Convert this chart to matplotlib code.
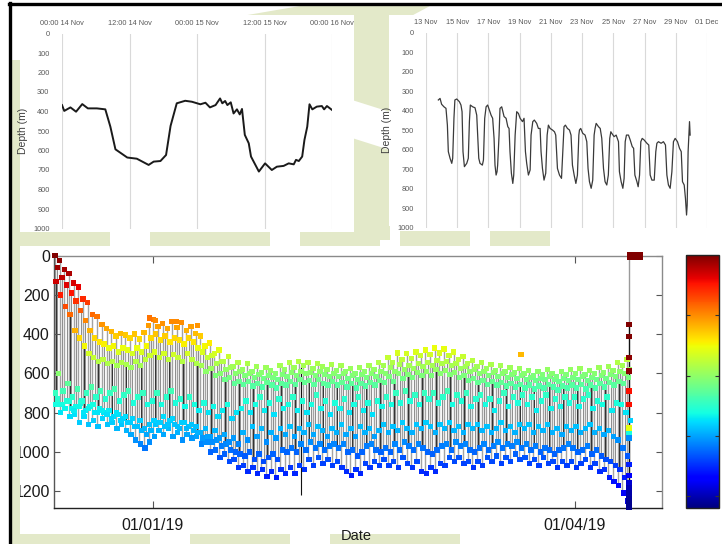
import numpy as np
import matplotlib
matplotlib.use('Agg')
import matplotlib.pyplot as plt
from matplotlib.patches import Rectangle, Polygon
from matplotlib.lines import Line2D
from matplotlib.colors import Normalize
from matplotlib.cm import ScalarMappable

plt.rcParams['font.family'] = ['Liberation Sans', 'DejaVu Sans']

# ---------------- data: top-left panel (hours after 00:00 14 Nov, depth m)
tl_hours = [0, 0.4, 1.5, 2.5, 3.6, 4.6, 6.2, 7.7, 8.6, 9.5,
            11.6, 13.3, 15.4, 16.3, 17.5, 18.5, 19.3, 20.4, 21.9, 23.1,
            24.6, 25.5, 26.3, 27.3, 28.1, 28.5, 29.0, 29.4, 30.0, 30.5,
            31.1, 31.6, 32.0, 32.5, 33.2, 33.6, 35.0, 36.1, 37.3, 38.2,
            39.4, 40.3, 41.2, 41.6, 42.1, 42.7, 43.1, 43.6, 44.0, 44.5,
            45.3, 46.2, 46.6, 47.1, 48.0]
tl_depth = [367, 397, 379, 401, 362, 384, 384, 389, 478, 594,
            636, 642, 674, 657, 654, 623, 474, 358, 345, 350,
            363, 355, 379, 367, 333, 358, 346, 367, 353, 410,
            389, 415, 387, 520, 563, 631, 708, 666, 700, 683,
            679, 666, 671, 648, 654, 631, 546, 478, 363, 389,
            375, 372, 389, 372, 392]
tl_ticks = [0, 12, 24, 36, 48]
tl_labels = ['00:00 14 Nov', '12:00 14 Nov', '00:00 15 Nov', '12:00 15 Nov', '00:00 16 Nov']

# ---------------- data: top-right panel (days after 13 Nov, depth m)
tr_days = [0.79, 0.90, 1.0, 1.15, 1.28, 1.37, 1.43, 1.54, 1.65, 1.71, 1.79, 1.85,
           1.97, 2.14, 2.24, 2.31, 2.37, 2.46, 2.61, 2.71, 2.78, 2.84,
           2.99, 3.14, 3.25, 3.31, 3.38, 3.46, 3.61, 3.68, 3.76, 3.85,
           3.95, 4.06, 4.17, 4.27, 4.36, 4.42, 4.49, 4.55, 4.59, 4.68, 4.74,
           4.85, 5.0, 5.13, 5.24, 5.32, 5.38, 5.47, 5.56, 5.62, 5.71, 5.81,
           5.92, 6.03, 6.18, 6.28, 6.37, 6.45, 6.56, 6.67, 6.73, 6.84,
           6.94, 7.09, 7.2, 7.31, 7.37, 7.46, 7.56, 7.67, 7.76, 7.84,
           7.95, 8.1, 8.23, 8.31, 8.42, 8.55, 8.68, 8.76, 8.84, 8.93,
           9.06, 9.19, 9.29, 9.38, 9.49, 9.6, 9.7, 9.79, 9.83,
           9.91, 10.04, 10.19, 10.3, 10.38, 10.47, 10.58, 10.68, 10.77, 10.83,
           10.9, 11.05, 11.16, 11.26, 11.37, 11.47, 11.58, 11.68, 11.77, 11.84,
           11.9, 12.05, 12.18, 12.33, 12.39, 12.5, 12.61, 12.69, 12.76, 12.84,
           12.97, 13.08, 13.21, 13.3, 13.38, 13.51, 13.59, 13.68, 13.76,
           13.85, 13.97, 14.15, 14.27, 14.36, 14.47, 14.62, 14.72, 14.79,
           14.89, 15.06, 15.21, 15.34, 15.43, 15.53, 15.64, 15.75, 15.85,
           15.96, 16.11, 16.24, 16.35, 16.43, 16.54, 16.62, 16.69, 16.73, 16.79,
           16.84, 16.88, 16.92]
tr_depth = [345, 337, 367, 380, 388, 474, 610, 644, 670, 644, 439, 345,
            340, 354, 371, 405, 610, 687, 670, 644, 456, 371,
            380, 385, 423, 525, 644, 670, 679, 653, 439, 380,
            371, 397, 423, 439, 542, 679, 730, 713, 679, 525, 388,
            380, 430, 439, 482, 491, 610, 721, 773, 730, 525, 405,
            414, 439, 456, 439, 610, 670, 730, 704, 525, 456,
            448, 465, 491, 491, 610, 696, 756, 721, 525, 474,
            491, 499, 508, 525, 696, 730, 747, 610, 482, 474,
            491, 499, 525, 679, 730, 773, 730, 525, 499,
            491, 516, 525, 559, 696, 764, 798, 756, 525, 491,
            465, 482, 491, 542, 696, 764, 781, 730, 542, 508,
            516, 533, 525, 559, 713, 764, 798, 747, 559, 525,
            525, 550, 584, 593, 730, 764, 790, 730, 559,
            542, 550, 567, 576, 730, 756, 756, 610, 567,
            559, 567, 559, 576, 730, 781, 798, 713, 559,
            542, 559, 593, 610, 764, 781, 850, 935, 885, 610,
            525, 456, 525]
tr_ticks = [0, 2, 4, 6, 8, 10, 12, 14, 16, 18]
tr_labels = ['13 Nov', '15 Nov', '17 Nov', '19 Nov', '21 Nov', '23 Nov',
             '25 Nov', '27 Nov', '29 Nov', '01 Dec']

# ---------------- data: bottom panel, one entry per day from 11 Dec 2018 (depth m)
night_top = [0, 25, 70, 90, 140, 160, 220, 240, 300, 310,
             350, 370, 385, 410, 395, 405, 420, 400, 425, 390,
             355, 325, 360, 345, 370, 335, 365, 340, 380, 360,
             395, 410, 460, 445, 500, 480, 540, 515, 565, 545,
             580, 550, 590, 565, 595, 570, 585, 600, 560, 580,
             545, 570, 540, 560, 545, 575, 550, 565, 580, 555,
             585, 560, 590, 575, 600, 570, 590, 560, 580, 545,
             560, 520, 545, 495, 530, 500, 525, 490, 510, 480,
             505, 470, 495, 475, 510, 490, 530, 515, 550, 535,
             565, 545, 575, 555, 585, 560, 590, 570, 595, 575,
             600, 585, 610, 590, 605, 580, 600, 615, 590, 605,
             580, 600, 575, 605, 585, 600, 570, 595, 565, 585,
             545, 560, 530]
night_mid = [60, 110, 150, 190, 230, 280, 330, 380, 420, 440,
             450, 470, 460, 490, 470, 480, 500, 470, 490, 460,
             420, 400, 430, 410, 440, 420, 430, 450, 420, 440,
             470, 490, 520, 510, 550, 540, 580, 570, 600, 590,
             610, 600, 620, 605, 625, 610, 620, 630, 605, 615,
             595, 610, 590, 600, 595, 610, 590, 605, 615, 600,
             615, 600, 625, 610, 630, 605, 620, 600, 615, 590,
             600, 570, 590, 555, 580, 560, 575, 550, 565, 545,
             560, 535, 550, 540, 560, 550, 575, 565, 590, 580,
             600, 590, 610, 595, 615, 600, 620, 605, 625, 610,
             630, 620, 635, 625, 630, 615, 630, 640, 625, 635,
             620, 630, 615, 635, 620, 630, 610, 625, 605, 615,
             590, 600, 580]
night_low = [130, 200, 260, 300, 380, 420, 460, 500, 520, 540,
             530, 550, 540, 560, 545, 555, 570, 540, 560, 530,
             510, 490, 520, 500, 530, 505, 520, 540, 500, 530,
             550, 560, 590, 575, 610, 600, 630, 620, 650, 640,
             655, 640, 665, 650, 670, 645, 660, 675, 650, 660,
             640, 655, 630, 645, 635, 655, 630, 650, 660, 640,
             660, 645, 670, 650, 675, 650, 665, 645, 660, 635,
             645, 615, 640, 600, 625, 605, 620, 595, 610, 590,
             610, 580, 600, 585, 605, 595, 620, 610, 635, 625,
             645, 635, 655, 640, 660, 645, 665, 650, 670, 655,
             675, 660, 680, 665, 675, 655, 670, 685, 665, 675,
             660, 675, 655, 680, 660, 675, 650, 670, 645, 660,
             640, 650, 620]
cyan_a = [600, 690, 650, 720, 680, 740, 700, 670, 720, 690,
          730, 700, 680, 740, 710, 690, 750, 720, 700, 760,
          740, 700, 760, 720, 690, 750, 730, 770, 720, 760,
          790, 750, 800, 770, 820, 790, 760, 830, 800, 780,
          740, 800, 760, 720, 790, 750, 810, 730, 780, 760,
          720, 790, 740, 800, 760, 710, 780, 740, 810, 750,
          780, 730, 800, 760, 720, 790, 750, 810, 740, 770,
          720, 760, 700, 750, 690, 740, 710, 760, 700, 730,
          700, 750, 720, 690, 760, 710, 740, 700, 770, 730,
          710, 760, 730, 790, 740, 700, 770, 720, 750, 710,
          760, 720, 790, 740, 710, 780, 730, 770, 720, 750,
          720, 770, 730, 710, 780, 740, 760, 720, 790, 750,
          760, 800, 840]
cyan_b = [700, 760, 780, 740, 790, 770, 800, 780, 760, 800,
          790, 810, 830, 800, 840, 820, 850, 870, 840, 880,
          860, 840, 850, 820, 860, 830, 870, 850, 880, 860,
          870, 900, 880, 920, 890, 930, 910, 950, 930, 960,
          900, 940, 870, 920, 880, 950, 900, 930, 880, 910,
          870, 920, 880, 900, 860, 910, 870, 890, 920, 880,
          900, 860, 910, 880, 920, 870, 900, 880, 920, 890,
          860, 900, 870, 890, 850, 880, 900, 860, 880, 850,
          870, 900, 860, 880, 850, 890, 870, 900, 860, 880,
          860, 890, 870, 900, 880, 850, 890, 870, 900, 860,
          880, 860, 900, 870, 890, 860, 900, 880, 910, 870,
          890, 870, 900, 880, 860, 900, 880, 910, 890, 920,
          940, 980, 1020]
day_top = [730, 760, 740, 780, 770, 750, 790, 770, 800, 780,
           800, 790, 820, 810, 830, 850, 830, 870, 890, 910,
           890, 860, 850, 870, 840, 860, 880, 850, 870, 890,
           900, 930, 920, 950, 940, 970, 960, 990, 1000, 1010,
           1020, 1000, 1040, 1010, 1050, 1030, 1010, 1040, 990, 1000,
           980, 1000, 960, 990, 950, 980, 960, 990, 970, 960,
           980, 960, 1000, 990, 1020, 1000, 970, 960, 990, 1000,
           980, 1000, 960, 990, 950, 970, 990, 960, 980, 1000,
           1010, 990, 970, 960, 990, 950, 970, 960, 990, 1000,
           980, 960, 990, 970, 950, 980, 960, 970, 950, 980,
           960, 990, 970, 1000, 980, 990, 1010, 990, 980, 960,
           980, 1000, 990, 970, 1010, 990, 1020, 1040, 1050, 1070,
           1090, 1130, 1170]
day_low = [760, 800, 780, 820, 810, 850, 820, 860, 840, 870,
           830, 860, 850, 880, 860, 890, 910, 940, 960, 980,
           950, 920, 890, 910, 880, 920, 900, 940, 910, 930,
           920, 960, 950, 1000, 990, 1030, 1010, 1050, 1040, 1080,
           1070, 1100, 1080, 1110, 1090, 1125, 1100, 1130, 1090, 1110,
           1080, 1110, 1070, 1090, 1040, 1070, 1030, 1060, 1040, 1070,
           1050, 1080, 1100, 1120, 1090, 1110, 1060, 1080, 1050, 1070,
           1040, 1070, 1050, 1080, 1030, 1060, 1080, 1050, 1100, 1110,
           1080, 1100, 1060, 1070, 1030, 1050, 1030, 1060, 1050, 1080,
           1050, 1070, 1030, 1050, 1020, 1060, 1030, 1050, 1010, 1040,
           1030, 1060, 1040, 1070, 1030, 1060, 1050, 1080, 1050, 1070,
           1050, 1080, 1060, 1040, 1080, 1060, 1100, 1090, 1130, 1150,
           1170, 1210, 1250]

# temperature (colour) read against depth from the colour scale
prof_depth = [0, 100, 200, 300, 400, 500, 600, 700, 800, 900, 1000, 1100, 1300]
prof_temp = [12.0, 11.6, 11.0, 10.3, 9.5, 8.7, 7.9, 7.1, 6.55, 6.1, 5.5, 5.0, 4.1]

# isolated shallow excursions
extra_days = [20.3, 21.5, 26.0, 30.5, 99.5]
extra_depth = [318, 330, 335, 355, 505]
extra_temp = [10.2, 10.0, 10.0, 9.9, 9.6]
spike_day = [52.6]
spike_depth = [1220]

# tag release: last profile and surface records
end_day = 122.5
end_depth = [350, 413, 520, 587, 690, 757, 879, 905, 930, 1065, 1120, 1155,
             1185, 1210, 1236, 1260, 1285]
end_temp = [12.0, 12.0, 11.9, 11.9, 11.1, 11.1, 8.9, 6.8, 5.8, 4.9, 4.5, 4.2,
            4.0, 3.9, 3.8, 3.7, 3.7]
surf_days = [123.0, 124.7]
surf_depth = [0, 0]

bottom_ticks = [21, 111]
bottom_labels = ['01/01/19', '01/04/19']
cbar_ticks = [4, 6, 8, 10]
t_min, t_max = 3.6, 12.0

# ---------------- figure
W, H = 722, 544
fig = plt.figure(figsize=(7.22, 5.44), dpi=100)
fig.patch.set_facecolor('white')


def fx(px):
    return px / W


def fy(py):
    return 1 - py / H


def prect(x0, y0, x1, y1, color, z):
    fig.add_artist(Rectangle((fx(x0), fy(y1)), fx(x1) - fx(x0), fy(y0) - fy(y1),
                             transform=fig.transFigure, facecolor=color,
                             edgecolor='none', zorder=z))


def ppoly(pts, color, z):
    fig.add_artist(Polygon([(fx(a), fy(b)) for a, b in pts], closed=True,
                           transform=fig.transFigure, facecolor=color,
                           edgecolor='none', zorder=z))


olive = '#e3e9c9'
# watermark shapes behind the pasted charts
prect(11, 60, 21, 544, olive, -5)
ppoly([(230, 18), (300, 6), (430, 6), (400, 22)], olive, -5)
ppoly([(352, 14), (390, 14), (390, 112), (352, 100)], olive, -5)
ppoly([(352, 138), (390, 150), (390, 240), (352, 240)], olive, -5)
for a, b in [(11, 110), (150, 270), (300, 380), (400, 470), (490, 550)]:
    prect(a, 231, b, 247, olive, -5)
for a, b in [(11, 150), (190, 290), (330, 460)]:
    prect(a, 534, b, 544, olive, -5)
# white chart images
prect(20, 15, 354, 232, 'white', -4)
prect(389, 15, 722, 226, 'white', -4)
prect(20, 246, 722, 534, 'white', -4)

# ---------------- top-left
ax1 = fig.add_axes([fx(62), fy(228.5), fx(332) - fx(62), fy(33.5) - fy(228.5)])
ax1.plot(tl_hours, tl_depth, color='#1a1a1a', lw=1.4)
ax1.set_xlim(0, 48)
ax1.set_ylim(1000, 0)
ax1.set_xticks(tl_ticks)
ax1.set_xticklabels(tl_labels)
ax1.set_yticks(range(0, 1001, 100))
ax1.xaxis.tick_top()

# ---------------- top-right
ax2 = fig.add_axes([fx(426), fy(227.7), fx(707) - fx(426), fy(32.7) - fy(227.7)])
ax2.plot(tr_days, tr_depth, color='#3a3a3a', lw=0.9)
ax2.set_xlim(0, 18)
ax2.set_ylim(1000, 0)
ax2.set_xticks(tr_ticks)
ax2.set_xticklabels(tr_labels)
ax2.set_yticks(range(0, 1001, 100))
ax2.xaxis.tick_top()

for ax, lx, pad in [(ax1, -0.126, 9.0), (ax2, -0.121, 8.6)]:
    for s in ax.spines.values():
        s.set_visible(False)
    ax.grid(axis='x', color='#d9d9d9', lw=0.8)
    ax.set_axisbelow(True)
    ax.tick_params(axis='both', length=0, labelsize=5.3, labelcolor='#595959')
    ax.tick_params(axis='y', pad=pad)
    ax.tick_params(axis='x', pad=4.5)
    ax.set_ylabel('Depth (m)', fontsize=7.5, color='#404040')
    ax.yaxis.set_label_coords(lx, 0.5)
    ax.set_facecolor('white')

# ---------------- bottom
ax3 = fig.add_axes([fx(54), fy(508), fx(662) - fx(54), fy(255.7) - fy(508)])
norm = Normalize(t_min, t_max)
cmap = plt.get_cmap('jet')
days = np.arange(len(night_top))


def col(d):
    return np.interp(np.asarray(d, float), prof_depth, prof_temp)


ax3.vlines(days + 0.1, night_top, day_low, colors='#a3a3a3', lw=1.0, zorder=1)
ax3.vlines(days + 0.6, night_mid, day_top, colors='#8f8f8f', lw=0.8, zorder=1)
ax3.vlines(days[::3] + 0.35, np.asarray(night_low)[::3], np.asarray(day_top)[::3],
           colors='#111111', lw=0.6, zorder=1)
ax3.vlines(spike_day, [560], spike_depth, colors='#111111', lw=0.8, zorder=1)
ax3.vlines([end_day], [0], [340], colors='#9a9a9a', lw=1.0, zorder=1)
ax3.vlines([end_day], [340], [1286], colors='#111111', lw=1.0, zorder=1)

sq = dict(marker='s', s=15, linewidths=0, cmap=cmap, norm=norm, zorder=3, clip_on=False)
for series, off in [(day_low, 0.3), (day_top, 0.6), (cyan_b, 0.2), (cyan_a, 0.85),
                    (night_low, 0.35), (night_mid, 0.6), (night_top, 0.1)]:
    ax3.scatter(days + off, series, c=col(series), **sq)
ax3.scatter(extra_days, extra_depth, c=extra_temp, **sq)
ax3.scatter([end_day] * len(end_depth), end_depth, c=end_temp, **sq)
ax3.scatter(surf_days, surf_depth, c=[t_max] * len(surf_days), marker='s', s=34,
            linewidths=0, cmap=cmap, norm=norm, zorder=4, clip_on=False)

ax3.set_xlim(-0.1, 129.55)
ax3.set_ylim(1286, 0)
ax3.set_xticks(bottom_ticks)
ax3.set_xticklabels(bottom_labels)
ax3.set_yticks(range(0, 1201, 200))
ax3.tick_params(axis='both', direction='in', labelsize=11.5, labelcolor='#1a1a1a',
                top=True, right=True, color='#555555')
ax3.tick_params(axis='y', length=4, pad=3)
ax3.tick_params(axis='x', length=5, pad=7)
ax3.spines['top'].set_color('#8a8a8a')
ax3.spines['right'].set_color('#8a8a8a')
ax3.spines['left'].set_color('#555555')
ax3.spines['bottom'].set_color('#222222')
for s in ax3.spines.values():
    s.set_linewidth(1.0)
ax3.set_facecolor('white')

# colour bar
ax4 = fig.add_axes([fx(686), fy(508.3), fx(719) - fx(686), fy(255) - fy(508.3)])
cb = fig.colorbar(ScalarMappable(norm=norm, cmap=cmap), cax=ax4, ticks=cbar_ticks)
cb.ax.tick_params(direction='in', length=3, left=True, right=True,
                  labelleft=False, labelright=False, color='#333333')
cb.outline.set_linewidth(1.0)
cb.outline.set_edgecolor('#222222')

fig.text(fx(356), 0.001, 'Date', fontsize=10.5, ha='center', va='bottom', color='#1a1a1a')

# cover strip (chart pasted behind the slide edge) and slide border
prect(11, 246, 19.5, 544, olive, 5)
fig.add_artist(Line2D([fx(9), 1], [fy(4), fy(4)], color='black', lw=2.4,
                      transform=fig.transFigure, zorder=10))
fig.add_artist(Line2D([fx(10), fx(10)], [fy(3), 0], color='black', lw=2.4,
                      transform=fig.transFigure, zorder=10))

fig.savefig('out.png', dpi=100)
